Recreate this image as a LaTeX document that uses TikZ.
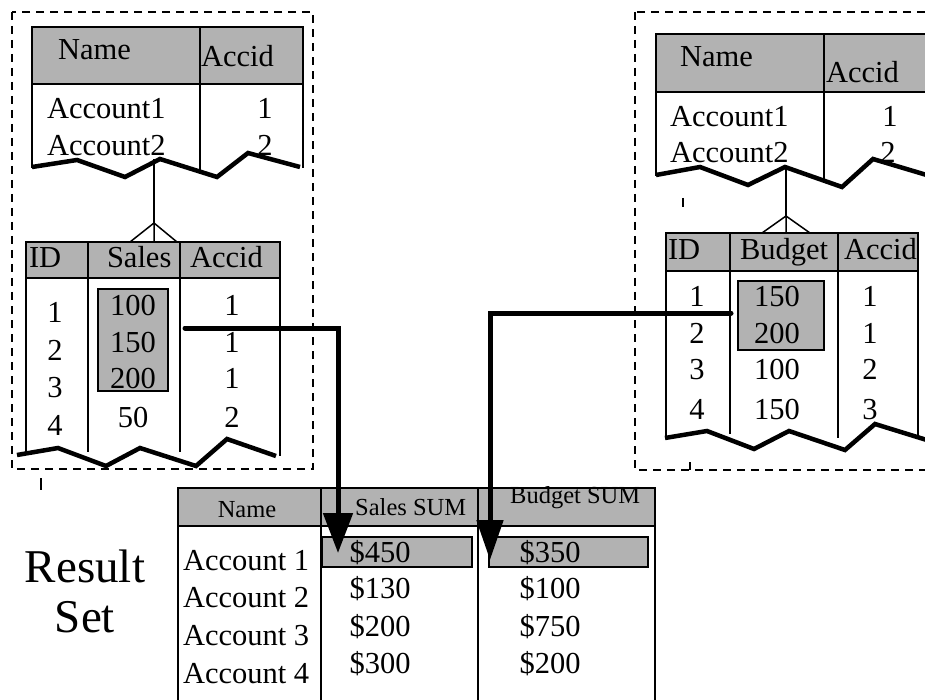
\documentclass[tikz,border=0pt]{standalone}
\usepackage{fontspec}
\setmainfont{Liberation Serif}
\usetikzlibrary{arrows.meta}
\definecolor{hgray}{RGB}{178,178,178}
\tikzset{
  hdr/.style={draw=black, fill=hgray, line width=2pt},
  bord/.style={line width=2pt},
  divl/.style={line width=1.2pt},
  jag/.style={line width=4.5pt, line join=miter},
  link/.style={line width=5pt, line cap=round},
  dbox/.style={line width=1.5pt, dash pattern=on 8pt off 6pt},
  foot/.style={line width=1.5pt},
  hbox/.style={draw=black, fill=hgray, line width=2pt},
  t/.style={inner sep=0pt, outer sep=0pt, anchor=base, font=\fontsize{30.5}{34}\selectfont},
  tw/.style={t, anchor=base west},
  ts/.style={inner sep=0pt, anchor=base, font=\fontsize{24.5}{28}\selectfont},
  tsw/.style={ts, anchor=base west},
  big/.style={inner sep=0pt, anchor=base, font=\fontsize{47}{52}\selectfont},
}
\begin{document}
\begin{tikzpicture}[x=1pt,y=-1pt]
\useasboundingbox (0,0) rectangle (925,700);
\clip (0,0) rectangle (925,700);
\fill[white] (0,0) rectangle (925,700);

% dashed boxes
\draw[dbox] (12,12) rectangle (313,469);
\draw[dbox] (635,12) rectangle (945,470);
\draw[line width=1.5pt] (41,478) -- (41,490);
\draw[line width=1.5pt] (683,198) -- (683,207);
\draw[line width=1.5pt] (690,462) -- (690,470);

% ---------- top-left table ----------
\draw[hdr] (32,27) rectangle (303,84);
\draw[bord] (32,84) -- (32,168) (303,84) -- (303,168);
\draw[bord] (200,27) -- (200,172);
\node[tw] (tlname) at (58,60) {Name};
\node[tw] (tlaccid) at (201,67) {Accid};
\node[tw] (tla1) at (47,119) {Account1};
\node[tw] (tla2) at (47,156) {Account2};
\node[t] (tlv1) at (265,119) {1};
\node[t] (tlv2) at (265,156) {2};
\draw[jag] (32,167) -- (77,160) -- (125,177) -- (160,159) -- (217,177) -- (248,153) -- (300,167);

% crow foot left
\coordinate (lfa) at (154,159);
\coordinate (lfb) at (154,223);
\draw[foot] (lfa) -- (lfb);
\draw[foot] (130,242) -- (lfb) -- (177,242) (lfb) -- (154,242);

% ---------- lower-left table ----------
\draw[hdr] (26,242) rectangle (280,278);
\draw[bord] (26,278) -- (26,452) (280,278) -- (280,456);
\draw[divl] (88,242) -- (88,452) (180,242) -- (180,452);
\node[tw] (llid) at (29,268) {ID};
\node[tw] (llsales) at (107,268) {Sales};
\node[tw] (llaccid) at (190,268) {Accid};
\draw[hbox] (98,289) rectangle (168,391);
\node[t] (lli1) at (55,322) {1};
\node[t] (lli2) at (55,360) {2};
\node[t] (lli3) at (55,397) {3};
\node[t] (lli4) at (55,435) {4};
\node[t] (lls1) at (133,315) {100};
\node[t] (lls2) at (133,352) {150};
\node[t] (lls3) at (133,388) {200};
\node[t] (lls4) at (133,427) {50};
\node[t] (lla1) at (232,315) {1};
\node[t] (lla2) at (232,352) {1};
\node[t] (lla3) at (232,388) {1};
\node[t] (lla4) at (232,427) {2};
\draw[jag] (17,455) -- (58,448) -- (106,466) -- (140,448) -- (196,466) -- (227,439) -- (276,456);

% ---------- top-right table ----------
\draw[hdr] (656,34) rectangle (940,92);
\draw[bord] (656,92) -- (656,176);
\draw[bord] (824,34) -- (824,180);
\node[tw] (trname) at (680,67) {Name};
\node[tw] (traccid) at (826,83) {Accid};
\node[tw] (tra1) at (670,127) {Account1};
\node[tw] (tra2) at (670,163) {Account2};
\node[t] (trv1) at (890,127) {1};
\node[t] (trv2) at (888,163) {2};
\draw[jag] (656,175) -- (700,167) -- (748,185) -- (785,167) -- (842,187) -- (873,159) -- (930,176);

% crow foot right
\coordinate (rfa) at (786,167);
\coordinate (rfb) at (786,216);
\draw[foot] (rfa) -- (rfb);
\draw[foot] (762,233) -- (rfb) -- (810,233) (rfb) -- (786,233);

% ---------- lower-right table ----------
\draw[hdr] (666,233) rectangle (918,271);
\draw[bord] (666,271) -- (666,438) (918,271) -- (918,438);
\draw[divl] (730,233) -- (730,434) (838,233) -- (838,438);
\node[tw] (lrid) at (668,260) {ID};
\node[tw] (lrbudget) at (740,260) {Budget};
\node[tw] (lraccid) at (844,260) {Accid};
\draw[hbox] (738,281) rectangle (824,350);
\node[t] (lri1) at (697,306) {1};
\node[t] (lri2) at (697,343) {2};
\node[t] (lri3) at (697,379) {3};
\node[t] (lri4) at (697,419) {4};
\node[t] (lrb1) at (777,306) {150};
\node[t] (lrb2) at (777,343) {200};
\node[t] (lrb3) at (777,379) {100};
\node[t] (lrb4) at (777,419) {150};
\node[t] (lra1) at (870,306) {1};
\node[t] (lra2) at (870,343) {1};
\node[t] (lra3) at (870,379) {2};
\node[t] (lra4) at (870,419) {3};
\draw[jag] (665,438) -- (707,431) -- (754,449) -- (789,431) -- (845,450) -- (875,424) -- (930,441);

% ---------- result table ----------
\draw[hdr] (178,488) rectangle (655,526);
\draw[bord] (178,526) -- (178,705) (655,526) -- (655,705);
\draw[bord] (321,488) -- (321,705) (478,488) -- (478,705);
\node[ts] (rsname) at (247,517) {Name};
\node[tsw] (rssales) at (355,515) {Sales SUM};
\node[tsw] (rsbudget) at (510,503) {Budget SUM};
\draw[hbox] (322,537) rectangle (472,567);
\draw[hbox] (489,537) rectangle (648,567);
\node[tw] (ra1) at (183,570) {Account 1};
\node[tw] (ra2) at (183,607) {Account 2};
\node[tw] (ra3) at (183,645) {Account 3};
\node[tw] (ra4) at (183,683) {Account 4};
\node[t] (rs1) at (380,562) {\$450};
\node[t] (rs2) at (380,598) {\$130};
\node[t] (rs3) at (380,636) {\$200};
\node[t] (rs4) at (380,673) {\$300};
\node[t] (rb1) at (550,562) {\$350};
\node[t] (rb2) at (550,598) {\$100};
\node[t] (rb3) at (550,636) {\$750};
\node[t] (rb4) at (550,673) {\$200};

\node[big] (res1) at (85,582) {Result};
\node[big] (res2) at (85,632) {Set};

% ---------- connectors ----------
\coordinate (salesfrom) at (185,328);
\coordinate (salesto) at (338,553);
\coordinate (budgetfrom) at (731,313);
\coordinate (budgetto) at (490,560);
\draw[link, -{Triangle[length=40pt,width=29pt]}] (salesfrom) -| (salesto);
\draw[link, -{Triangle[length=40pt,width=26pt]}] (budgetfrom) -| (budgetto);
\end{tikzpicture}
\end{document}
